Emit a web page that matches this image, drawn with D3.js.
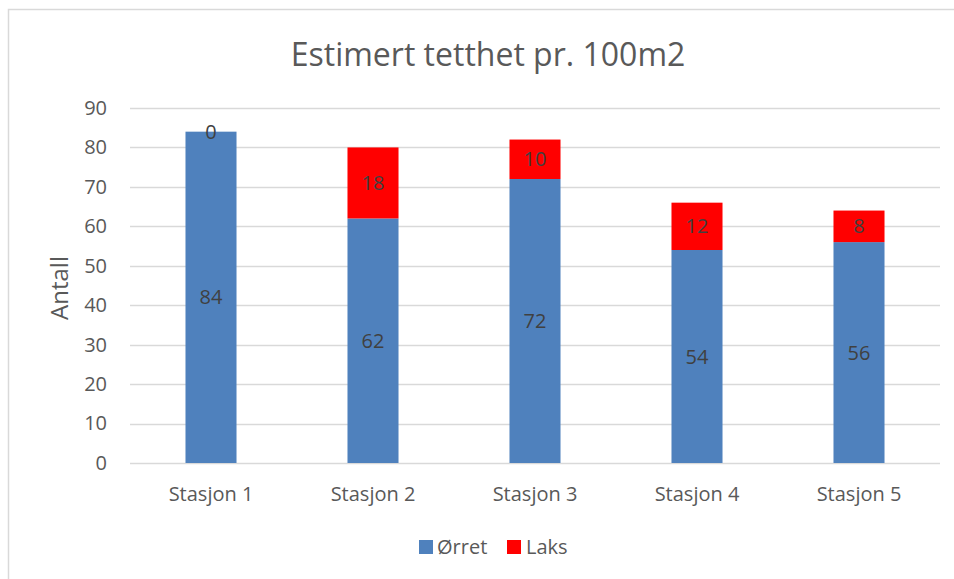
<!DOCTYPE html>
<html><head><meta charset="utf-8">
<script src="https://cdn.jsdelivr.net/npm/d3@7"></script>
<style>body{margin:0;background:#fff}svg{display:block}text{font-family:"Open Sans",sans-serif}</style>
</head><body><svg id="c" width="954" height="579"></svg>
<script>
(function(){
const categories = ["Stasjon 1","Stasjon 2","Stasjon 3","Stasjon 4","Stasjon 5"];
const orret = [84,62,72,54,56];
const laks = [0,18,10,12,8];
const seriesNames = ["Ørret","Laks"];
const seriesColors = ["#4F81BD","#FF0000"];
const yTicks = [0,10,20,30,40,50,60,70,80,90];
const title = "Estimert tetthet pr. 100m2";
const yLabel = "Antall";

const svg = d3.select("#c");
const W=954,H=579;
svg.append("rect").attr("x",8.5).attr("y",9.5).attr("width",W+10).attr("height",H+10)
  .attr("fill","#fff").attr("stroke","#d9d9d9").attr("stroke-width",1.5);

const pLeft=130,pRight=940,pTop=108,pBottom=463;
const x=d3.scaleBand().domain(categories).range([pLeft,pRight]).paddingInner(0.685).paddingOuter(0.3425);
const y=d3.scaleLinear().domain([0,90]).range([pBottom,pTop]);

const grid=svg.append("g");
yTicks.forEach(t=>{
  grid.append("line").attr("x1",pLeft).attr("x2",pRight).attr("y1",Math.round(y(t))+0.5).attr("y2",Math.round(y(t))+0.5)
   .attr("stroke","#d9d9d9").attr("stroke-width",1.5);
});
const yAxis=d3.axisLeft(y).tickValues(yTicks).tickSize(0).tickPadding(23);
const gy=svg.append("g").attr("transform",`translate(${pLeft},0)`).call(yAxis);
gy.select(".domain").remove();
gy.selectAll("text").attr("fill","#595959").style("font-size","20px").style("font-family","'Open Sans',sans-serif");

const xAxis=d3.axisBottom(x).tickSize(0).tickPadding(24);
const gx=svg.append("g").attr("transform",`translate(0,${pBottom})`).call(xAxis);
gx.select(".domain").remove();
gx.selectAll("text").attr("fill","#595959").style("font-size","20px").style("font-family","'Open Sans',sans-serif");

const data=categories.map((c,i)=>({cat:c,"Ørret":orret[i],"Laks":laks[i]}));
const stack=d3.stack().keys(seriesNames)(data);
stack.forEach((s,si)=>{
  const g=svg.append("g");
  g.selectAll("rect").data(s).join("rect")
    .attr("x",d=>x(d.data.cat)).attr("width",x.bandwidth())
    .attr("y",d=>y(d[1])).attr("height",d=>y(d[0])-y(d[1]))
    .attr("fill",seriesColors[si]);
  g.selectAll("text").data(s).join("text")
    .attr("x",d=>x(d.data.cat)+x.bandwidth()/2)
    .attr("y",d=>(y(d[0])+y(d[1]))/2)
    .attr("dy","0.35em").attr("text-anchor","middle")
    .attr("fill","#404040").style("font-size","20px")
    .text(d=>d[1]-d[0]);
});

svg.append("text").attr("x",488).attr("y",55).attr("dy","0.35em").attr("text-anchor","middle")
  .attr("fill","#595959").style("font-size","32px").text(title);

svg.append("text").attr("transform",`translate(60,288) rotate(-90)`).attr("dy","0.35em").attr("text-anchor","middle")
  .attr("fill","#595959").style("font-size","24px").text(yLabel);

const leg=[{x:419,tx:437},{x:507,tx:526}];
seriesNames.forEach((n,i)=>{
  svg.append("rect").attr("x",leg[i].x).attr("y",540).attr("width",14).attr("height",14).attr("fill",seriesColors[i]);
  svg.append("text").attr("x",leg[i].tx).attr("y",547).attr("dy","0.35em").attr("fill","#595959").style("font-size","20px").text(n);
});
})();
</script></body></html>
